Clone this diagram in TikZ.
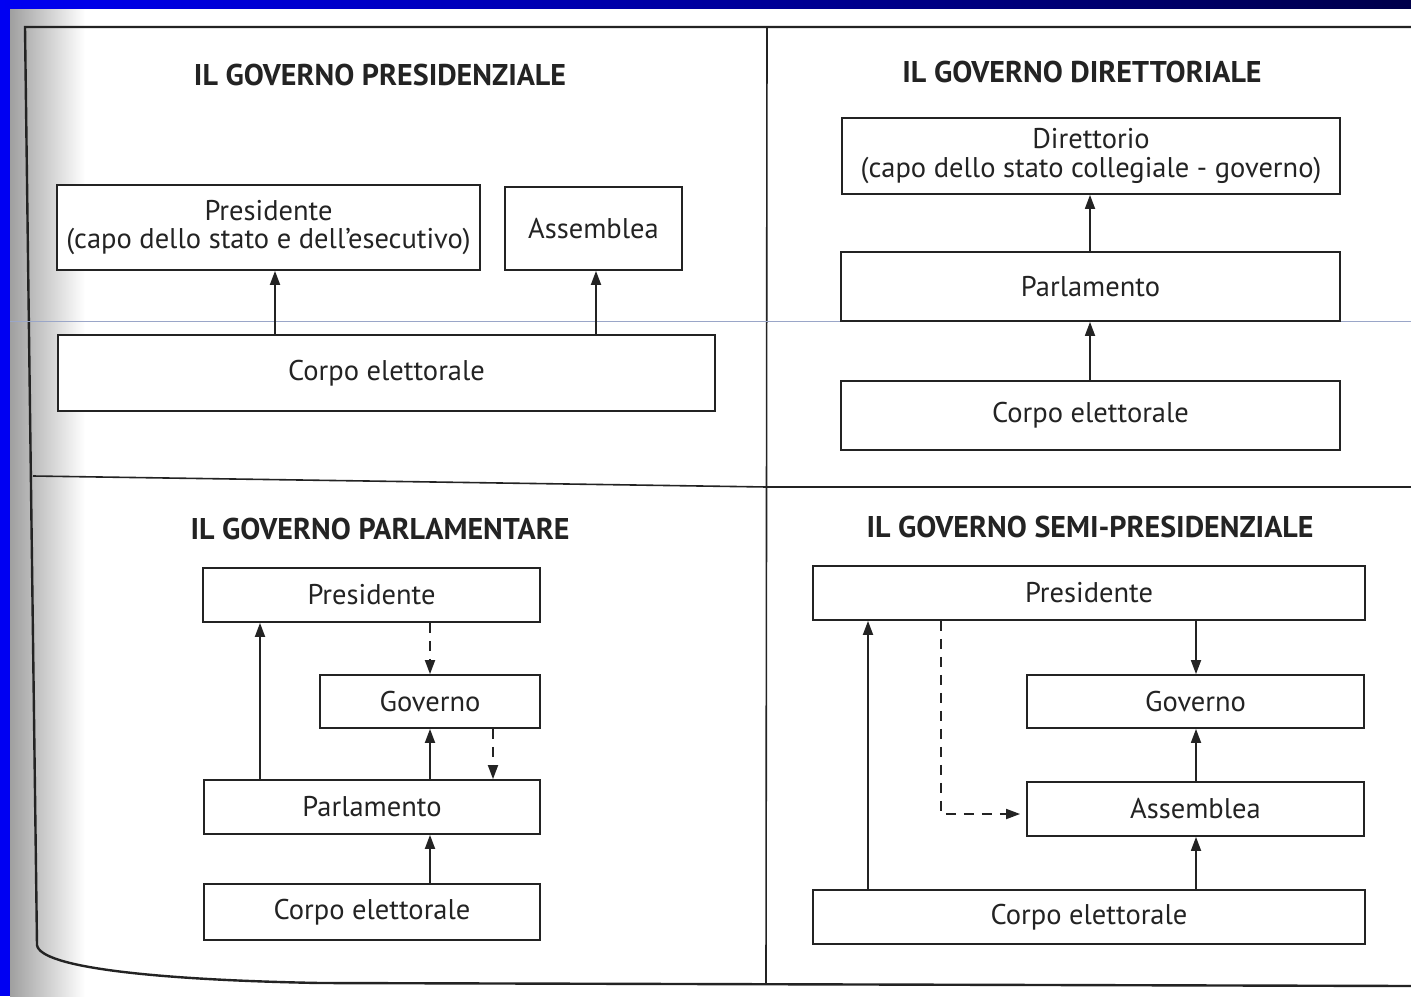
\documentclass[tikz,border=0pt]{standalone}
\usepackage{fontspec}
\setmainfont{PT Sans}
\usetikzlibrary{arrows.meta}
\definecolor{ink}{HTML}{232323}
\definecolor{bluebg}{HTML}{0000F2}
\definecolor{navybg}{HTML}{00004A}
\definecolor{scanline}{HTML}{9AA6C8}
\begin{document}
\begin{tikzpicture}[x=1pt,y=-1pt,
  box/.style={draw=ink, line width=1.8pt, fill=white, inner sep=0pt, align=center,
    font=\fontsize{28.5}{28.5}\selectfont, text=ink},
  head/.style={font=\bfseries\fontsize{30}{32}\selectfont, text=ink},
  arr/.style={draw=ink, line width=1.8pt, -{Triangle[length=14pt,width=10pt]}},
  dsh/.style={arr, dash pattern=on 10pt off 8pt},
  framel/.style={draw=ink, line width=2.4pt},
  divl/.style={draw=ink, line width=1.6pt}]
\useasboundingbox (0,0) rectangle (1411,996);
% background
\fill[white] (0,0) rectangle (1411,996);
\shade[left color=gray!75, right color=white] (10,8) rectangle (85,996);
\fill[bluebg] (0,0) rectangle (10,996);
\shade[left color=bluebg, right color=navybg] (0,0) rectangle (1411,8);
% frame and dividers
\draw[framel] (1411,27) -- (25,27) -- (37,945) .. controls (40,968) and (160,980) .. (320,983) -- (1411,986);
\draw[divl] (767,27) -- (766,984);
\draw[divl] (33,476) -- (767,487) -- (1411,487);
\draw[scanline, line width=0.8pt] (10,321) -- (1411,321);

% ---------- Presidenziale ----------
\node[head] (h1) at (380,75) {IL GOVERNO PRESIDENZIALE};
\node[box, minimum width=423pt, minimum height=85pt] (pres1) at (268.5,227.5)
  {Presidente\\(capo dello stato e dell’esecutivo)};
\node[box, minimum width=177pt, minimum height=83pt] (ass1) at (593.5,228.5) {Assemblea};
\node[box, minimum width=657pt, minimum height=76pt] (corpo1) at (386.5,373) {Corpo elettorale};
\coordinate (xa) at (275,0);
\coordinate (xb) at (596,0);
\draw[arr] (corpo1.north -| xa) -- (pres1.south -| xa);
\draw[arr] (corpo1.north -| xb) -- (ass1.south -| xb);

% ---------- Direttoriale ----------
\node[head] (h2) at (1082,72) {IL GOVERNO DIRETTORIALE};
\node[box, minimum width=498pt, minimum height=76pt] (dir) at (1091,156)
  {Direttorio\\(capo dello stato collegiale - governo)};
\node[box, minimum width=499pt, minimum height=69pt] (parl2) at (1090.5,286.5) {Parlamento};
\node[box, minimum width=499pt, minimum height=69pt] (corpo2) at (1090.5,415.5) {Corpo elettorale};
\coordinate (xc) at (1090,0);
\draw[arr] (corpo2.north -| xc) -- (parl2.south -| xc);
\draw[arr] (parl2.north -| xc) -- (dir.south -| xc);

% ---------- Parlamentare ----------
\node[head] (h3) at (380,529) {IL GOVERNO PARLAMENTARE};
\node[box, minimum width=337pt, minimum height=54pt] (pres3) at (371.5,595) {Presidente};
\node[box, minimum width=220pt, minimum height=53pt] (gov3) at (430,701.5) {Governo};
\node[box, minimum width=336pt, minimum height=54pt] (parl3) at (372,807) {Parlamento};
\node[box, minimum width=336pt, minimum height=56pt] (corpo3) at (372,912) {Corpo elettorale};
\coordinate (xd) at (260,0);
\coordinate (xe) at (430,0);
\coordinate (xf) at (493,0);
\draw[arr] (parl3.north -| xd) -- (pres3.south -| xd);
\draw[arr] (parl3.north -| xe) -- (gov3.south -| xe);
\draw[arr] (corpo3.north -| xe) -- (parl3.south -| xe);
\draw[dsh] (pres3.south -| xe) -- (gov3.north -| xe);
\draw[dsh] (gov3.south -| xf) -- (parl3.north -| xf);

% ---------- Semi-presidenziale ----------
\node[head] (h4) at (1090,527) {IL GOVERNO SEMI-PRESIDENZIALE};
\node[box, minimum width=552pt, minimum height=54pt] (pres4) at (1089,593) {Presidente};
\node[box, minimum width=337pt, minimum height=53pt] (gov4) at (1195.5,701.5) {Governo};
\node[box, minimum width=337pt, minimum height=54pt] (ass4) at (1195.5,809) {Assemblea};
\node[box, minimum width=552pt, minimum height=54pt] (corpo4) at (1089,917) {Corpo elettorale};
\coordinate (xg) at (1196,0);
\coordinate (xh) at (868,0);
\coordinate (xi) at (941,0);
\coordinate (ya) at (0,814);
\draw[arr] (pres4.south -| xg) -- (gov4.north -| xg);
\draw[arr] (ass4.north -| xg) -- (gov4.south -| xg);
\draw[arr] (corpo4.north -| xg) -- (ass4.south -| xg);
\draw[arr] (corpo4.north -| xh) -- (pres4.south -| xh);
\draw[dsh] (pres4.south -| xi) |- ([xshift=-6pt]ass4.west |- ya);
\end{tikzpicture}
\end{document}
